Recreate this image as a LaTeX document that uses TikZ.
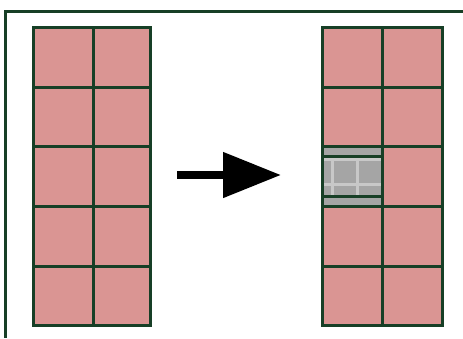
\documentclass[tikz,border=0pt]{standalone}
\usetikzlibrary{arrows.meta}
\definecolor{gridgreen}{HTML}{173F26}
\definecolor{cellpink}{HTML}{DA9593}
\definecolor{cellgray}{HTML}{A5A5A5}
\definecolor{lightgray}{HTML}{C8C8C8}
\tikzset{
  gridline/.style={draw=gridgreen,line width=3pt},
  framelines/.style={draw=gridgreen,line width=3pt},
  bigarrow/.style={line width=8pt,-{Triangle[length=58pt,width=44pt]}},
}
\begin{document}
\begin{tikzpicture}[x=1pt,y=-1pt]
\useasboundingbox (0,0) rectangle (463,338);
% frame
\draw[framelines] (463,11.5) -- (5.5,11.5) -- (5.5,338);
% left grid
\fill[cellpink] (33.5,27.5) rectangle (150.5,325.5);
\foreach \yy in {27.5,87,146.7,206.3,266,325.5}
  \draw[gridline] (32,\yy) -- (152,\yy);
\foreach \xx in {33.5,93.5,150.5}
  \draw[gridline] (\xx,27.5) -- (\xx,325.5);
% right grid
\fill[cellpink] (322.5,27.5) rectangle (442.5,325.5);
% gray cell
\fill[cellgray] (322.5,146.7) rectangle (382.5,206.3);
\begin{scope}
  \clip (324,158) rectangle (381,195);
  \foreach \yy in {159.5,184.5}
    \draw[lightgray,line width=3pt] (322,\yy) -- (383,\yy);
  \foreach \xx in {332.5,357.5}
    \draw[lightgray,line width=3pt] (\xx,155) -- (\xx,198);
\end{scope}
\draw[gridline] (322.5,156.5) -- (382.5,156.5);
\draw[gridline] (322.5,196.5) -- (382.5,196.5);
\foreach \yy in {27.5,87,146.7,206.3,266,325.5}
  \draw[gridline] (321,\yy) -- (444,\yy);
\foreach \xx in {322.5,382.5,442.5}
  \draw[gridline] (\xx,27.5) -- (\xx,325.5);
% arrow
\coordinate (arrowstart) at (177,175);
\coordinate (arrowend) at (281,175);
\draw[bigarrow] (arrowstart) -- (arrowend);
\end{tikzpicture}
\end{document}
